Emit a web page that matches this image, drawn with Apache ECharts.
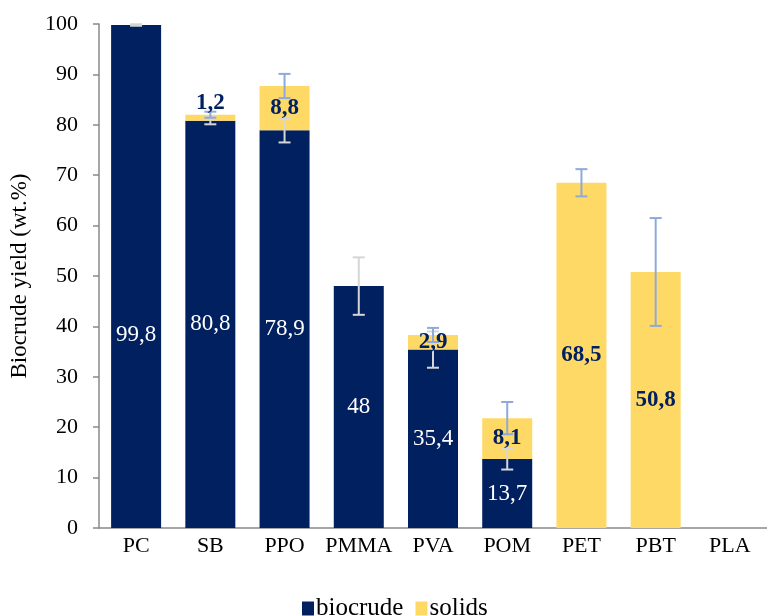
<!DOCTYPE html>
<html>
<head>
<meta charset="utf-8">
<title>Biocrude yield</title>
<script src="https://cdn.jsdelivr.net/npm/echarts@6/dist/echarts.min.js"></script>
<style>
  html, body { margin: 0; padding: 0; background: #ffffff; }
  #chart { width: 767px; height: 616px; }
</style>
</head>
<body>
<div id="chart"></div>
<script>
// Polymer feedstocks on the category axis
const categories = ['PC', 'SB', 'PPO', 'PMMA', 'PVA', 'POM', 'PET', 'PBT', 'PLA'];
// Yields in wt.% (null = no fraction)
const biocrude = [99.8, 80.8, 78.9, 48, 35.4, 13.7, null, null, null];
const solids = [null, 1.2, 8.8, null, 2.9, 8.1, 68.5, 50.8, null];
// Standard deviations for each fraction
const biocrudeErr = [0.15, 0.7, 2.4, 5.7, 3.6, 2.1, null, null, null];
const solidsErr = [null, 0.6, 2.4, null, 1.4, 3.2, 2.7, 10.7, null];
// Value-axis ticks
const yMin = 0, yMax = 100, yStep = 10;

const SERIF = '"Liberation Serif", "Times New Roman", serif';
const NAVY = '#002060';
const GOLD = '#FFD966';
const LABEL_SIZE = 23;

// vertical nudges (pixels) for labels placed away from their segment centre
const biocrudeLabelNudge = { 0: 58 };
const solidsLabelNudge = { 1: -15 };

// decimal comma
const fmt = (v) => String(v).replace('.', ',');

// value labels: [category index, segment base, segment value]
const biocrudeLabelData = [];
const solidsLabelData = [];
const biocrudeErrData = [];
const solidsErrData = [];
categories.forEach((c, i) => {
  const base = biocrude[i] || 0;
  if (biocrude[i] != null) {
    biocrudeLabelData.push([i, 0, biocrude[i]]);
    if (biocrudeErr[i] != null) biocrudeErrData.push([i, biocrude[i], biocrudeErr[i]]);
  }
  if (solids[i] != null) {
    solidsLabelData.push([i, base, solids[i]]);
    if (solidsErr[i] != null) solidsErrData.push([i, base + solids[i], solidsErr[i]]);
  }
});

function errorBars(color) {
  return function (params, api) {
    const i = api.value(0), c = api.value(1), e = api.value(2);
    const hi = api.coord([i, c + e]);
    const lo = api.coord([i, c - e]);
    const half = 6;
    const style = { stroke: color, lineWidth: 2, fill: null };
    return {
      type: 'group',
      children: [
        { type: 'line', shape: { x1: hi[0], y1: hi[1], x2: lo[0], y2: lo[1] }, style: style },
        { type: 'line', shape: { x1: hi[0] - half, y1: hi[1], x2: hi[0] + half, y2: hi[1] }, style: style },
        { type: 'line', shape: { x1: lo[0] - half, y1: lo[1], x2: lo[0] + half, y2: lo[1] }, style: style }
      ]
    };
  };
}

function segmentLabels(color, weight, nudge) {
  return function (params, api) {
    const i = api.value(0), base = api.value(1), v = api.value(2);
    const p = api.coord([i, base + v / 2]);
    return {
      type: 'text',
      x: p[0],
      y: p[1] + (nudge[i] || 0),
      style: {
        text: fmt(v),
        fill: color,
        font: weight + ' ' + LABEL_SIZE + 'px ' + SERIF,
        align: 'center',
        verticalAlign: 'middle'
      }
    };
  };
}

const chart = echarts.init(document.getElementById('chart'), null, { renderer: 'canvas' });
chart.setOption({
  animation: false,
  backgroundColor: '#ffffff',
  textStyle: { fontFamily: SERIF },
  grid: { left: 97, top: 24, width: 675, height: 504, containLabel: false },
  legend: {
    data: ['biocrude', 'solids'],
    left: 297,
    top: 591,
    icon: 'rect',
    itemWidth: 12,
    itemHeight: 14,
    itemGap: 12,
    textStyle: { fontFamily: SERIF, fontSize: 25, color: '#000000', padding: [0, 0, 0, -3] }
  },
  xAxis: {
    type: 'category',
    data: categories,
    axisLine: { lineStyle: { color: '#898989', width: 1.5 } },
    axisTick: { show: false },
    axisLabel: { interval: 0, fontFamily: SERIF, fontSize: 22, color: '#000000', margin: 7 }
  },
  yAxis: {
    type: 'value',
    min: yMin,
    max: yMax,
    interval: yStep,
    name: 'Biocrude yield (wt.%)',
    nameLocation: 'middle',
    nameGap: 68,
    nameTextStyle: { fontFamily: SERIF, fontSize: 23, color: '#000000' },
    axisLine: { show: true, lineStyle: { color: '#898989', width: 1.5 } },
    axisTick: { show: true, inside: false, length: 6, lineStyle: { color: '#898989', width: 1.5 } },
    splitLine: { show: false },
    axisLabel: { fontFamily: SERIF, fontSize: 22, color: '#000000', margin: 21 }
  },
  series: [
    {
      name: 'biocrude',
      type: 'bar',
      stack: 'yield',
      barWidth: 50,
      z: 2,
      itemStyle: { color: NAVY },
      data: biocrude
    },
    {
      name: 'solids',
      type: 'bar',
      stack: 'yield',
      barWidth: 50,
      z: 2,
      itemStyle: { color: GOLD },
      data: solids
    },
    {
      name: 'biocrude error',
      type: 'custom',
      z: 3,
      renderItem: errorBars('#d6d6d6'),
      encode: { x: 0, y: 1 },
      data: biocrudeErrData
    },
    {
      name: 'solids error',
      type: 'custom',
      z: 4,
      renderItem: errorBars('#8eaadb'),
      encode: { x: 0, y: 1 },
      data: solidsErrData
    },
    {
      name: 'biocrude labels',
      type: 'custom',
      z: 5,
      renderItem: segmentLabels('#ffffff', 'normal', biocrudeLabelNudge),
      encode: { x: 0, y: 1 },
      data: biocrudeLabelData
    },
    {
      name: 'solids labels',
      type: 'custom',
      z: 5,
      renderItem: segmentLabels(NAVY, 'bold', solidsLabelNudge),
      encode: { x: 0, y: 1 },
      data: solidsLabelData
    }
  ]
});
</script>
</body>
</html>
